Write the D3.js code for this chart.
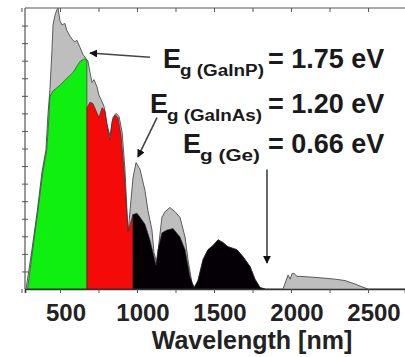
<!DOCTYPE html>
<html>
<head>
<meta charset="utf-8">
<script src="https://cdn.jsdelivr.net/npm/d3@7/dist/d3.min.js"></script>
<style>
  html, body { margin: 0; padding: 0; background: #fff; }
  svg { display: block; font-family: "Liberation Sans", Arial, sans-serif; }
</style>
</head>
<body>
<div id="chart"></div>
<script>
// wavelength [nm], spectral irradiance [W m^-2 nm^-1]
const solarSpectrum = [
  [280, 0], [318, 0.28], [351, 0.54], [383, 0.83], [409, 0.99], [422, 1.24], [435, 1.42],
  [448, 1.70], [455, 1.88], [468, 1.95], [481, 1.99], [487, 2.0], [500, 1.91], [513, 1.88],
  [532, 1.89], [545, 1.84], [565, 1.80], [584, 1.77], [597, 1.76], [610, 1.77], [630, 1.72],
  [649, 1.67], [669, 1.64], [682, 1.62], [695, 1.54], [708, 1.47], [721, 1.49], [740, 1.44],
  [753, 1.38], [766, 1.35], [786, 1.30], [805, 1.17], [825, 1.09], [844, 1.22], [864, 1.25],
  [883, 1.23], [903, 1.12], [922, 0.85], [942, 0.40], [961, 0.63], [974, 0.79], [994, 0.90],
  [1020, 0.85], [1052, 0.70], [1071, 0.56], [1097, 0.42], [1110, 0.26], [1130, 0.18],
  [1143, 0.33], [1162, 0.51], [1182, 0.55], [1214, 0.58], [1247, 0.55], [1279, 0.51],
  [1312, 0.37], [1331, 0.21], [1357, 0.04], [1377, 0.01], [1396, 0.06], [1429, 0.21],
  [1461, 0.28], [1494, 0.31], [1526, 0.35], [1559, 0.33], [1591, 0.30], [1649, 0.28],
  [1688, 0.23], [1734, 0.16], [1766, 0.07], [1799, 0.01], [1831, 0], [1948, 0], [1968, 0.06],
  [1981, 0.10], [1994, 0.07], [2007, 0.11], [2020, 0.11], [2039, 0.09], [2059, 0.09],
  [2124, 0.085], [2188, 0.08], [2286, 0.07], [2351, 0.06], [2416, 0.035], [2461, 0.015],
  [2500, 0], [2750, 0]
];

// GaInP top cell
const gainpSpectrum = [
  [290, 0], [323, 0.28], [355, 0.54], [388, 0.83], [414, 0.99], [427, 1.20], [435, 1.37],
  [455, 1.41], [500, 1.45], [545, 1.50], [584, 1.54], [630, 1.62], [662, 1.64], [675, 1.63],
  [675, 0]
];

// GaInAs middle cell
const gainasSpectrum = [
  [675, 0], [675, 1.29], [695, 1.33], [714, 1.32], [734, 1.27], [753, 1.22], [773, 1.29],
  [792, 1.27], [812, 1.13], [825, 1.06], [838, 1.19], [857, 1.24], [877, 1.22], [896, 1.10],
  [916, 0.85], [929, 0.63], [942, 0.41], [955, 0.46], [974, 0.53], [974, 0]
];

// Ge bottom cell
const geSpectrum = [
  [974, 0], [974, 0.53], [1000, 0.54], [1020, 0.51], [1052, 0.46], [1084, 0.35], [1104, 0.26],
  [1123, 0.17], [1136, 0.28], [1162, 0.40], [1195, 0.42], [1234, 0.43], [1279, 0.37],
  [1312, 0.28], [1344, 0.09], [1370, 0.01], [1396, 0.06], [1429, 0.21], [1461, 0.28],
  [1494, 0.31], [1526, 0.35], [1559, 0.33], [1591, 0.30], [1649, 0.28], [1688, 0.23],
  [1734, 0.16], [1766, 0.07], [1799, 0.01], [1831, 0]
];

const xTicks = [250, 500, 750, 1000, 1250, 1500, 1750, 2000, 2250, 2500];
const xTickLabels = [500, 1000, 1500, 2000, 2500];

// arrows: [from, tip] in data units
const arrows = [
  [[1084, 1.65], [695, 1.68]],
  [[1130, 1.22], [1006, 0.94]],
  [[1844, 0.85], [1844, 0.185]]
];

const labels = [
  { x: 163, y: 68, sub: 'g (GaInP)', subLen: 84, eqX: 268, value: '= 1.75 eV' },
  { x: 150, y: 113, sub: 'g (GaInAs)', subLen: 95, eqX: 268, value: '= 1.20 eV' },
  { x: 183, y: 153, sub: 'g (Ge)', subLen: 60, eqX: 268, value: '= 0.66 eV' }
];

const width = 405, height = 357;
const margin = { top: 8, right: 0, bottom: 68, left: 25 };

const svg = d3.select('#chart')
  .append('svg')
  .attr('width', width)
  .attr('height', height);

const x = d3.scaleLinear()
  .domain([273, 2740])
  .range([margin.left, width - margin.right]);

const y = d3.scaleLinear()
  .domain([0, 2.0])
  .range([height - margin.bottom, margin.top]);

const area = d3.area()
  .x(d => x(d[0]))
  .y0(y(0))
  .y1(d => y(d[1]));

const line = d3.line()
  .x(d => x(d[0]))
  .y(d => y(d[1]));

// full spectrum in grey
svg.append('path')
  .datum(solarSpectrum)
  .attr('fill', '#bebebe')
  .attr('d', area);
svg.append('path')
  .datum(solarSpectrum)
  .attr('fill', 'none')
  .attr('stroke', '#5a5a5a')
  .attr('stroke-width', 1)
  .attr('d', line);

// sub-cells
const cells = [
  { data: gainpSpectrum, color: '#10f010' },
  { data: gainasSpectrum, color: '#f50a0a' },
  { data: geSpectrum, color: '#050005' }
];
cells.forEach(c => {
  svg.append('path')
    .datum(c.data)
    .attr('fill', c.color)
    .attr('stroke', '#2a2a2a')
    .attr('stroke-width', 0.6)
    .attr('d', area);
});

// frame
const frame = svg.append('g').attr('stroke', '#555').attr('stroke-width', 1.2).attr('fill', 'none');
frame.append('line')
  .attr('x1', margin.left).attr('x2', width)
  .attr('y1', margin.top).attr('y2', margin.top);
frame.append('line')
  .attr('x1', margin.left).attr('x2', margin.left)
  .attr('y1', margin.top).attr('y2', height - margin.bottom);

// bottom axis
const xAxis = svg.append('g')
  .attr('transform', `translate(0,${height - margin.bottom})`)
  .call(d3.axisBottom(x).tickValues(xTicks).tickSize(4).tickFormat(''));
xAxis.select('.domain').attr('stroke', '#333').attr('stroke-width', 1.6);
xAxis.selectAll('.tick line').attr('stroke', '#555');

// top ticks
const topAxis = svg.append('g')
  .attr('transform', `translate(0,${margin.top})`)
  .call(d3.axisTop(x).tickValues(xTicks).tickSize(-4).tickFormat(''));
topAxis.select('.domain').remove();
topAxis.selectAll('.tick line').attr('stroke', '#555');

// left ticks
const yAxis = svg.append('g')
  .attr('transform', `translate(${margin.left + 3},0)`)
  .call(d3.axisLeft(y).tickValues(d3.range(0.125, 2.0, 0.125)).tickSize(6).tickFormat(''));
yAxis.select('.domain').remove();
yAxis.selectAll('.tick line').attr('stroke', '#555');

// tick labels
svg.append('g')
  .selectAll('text')
  .data(xTickLabels)
  .join('text')
  .attr('x', d => x(d) + 6)
  .attr('y', 321)
  .attr('text-anchor', 'middle')
  .attr('font-size', 24)
  .attr('font-weight', 'bold')
  .attr('fill', '#222')
  .text(d => d);

svg.append('text')
  .attr('x', 252)
  .attr('y', 349)
  .attr('text-anchor', 'middle')
  .attr('font-size', 25)
  .attr('font-weight', 'bold')
  .attr('fill', '#222')
  .text('Wavelength [nm]');

// arrows
const defs = svg.append('defs');
defs.append('marker')
  .attr('id', 'head')
  .attr('viewBox', '0 0 10 10')
  .attr('refX', 9)
  .attr('refY', 5)
  .attr('markerWidth', 5)
  .attr('markerHeight', 5)
  .attr('markerUnits', 'strokeWidth')
  .attr('orient', 'auto')
  .append('path')
  .attr('d', 'M0,0L10,5L0,10Z')
  .attr('fill', '#111');

svg.append('g')
  .selectAll('line')
  .data(arrows)
  .join('line')
  .attr('x1', d => x(d[0][0]))
  .attr('y1', d => y(d[0][1]))
  .attr('x2', d => x(d[1][0]))
  .attr('y2', d => y(d[1][1]))
  .attr('stroke', '#444')
  .attr('stroke-width', 1.6)
  .attr('marker-end', 'url(#head)');

// band gap labels
const lab = svg.append('g')
  .attr('font-weight', 'bold')
  .attr('fill', '#1a1a1a');
labels.forEach(l => {
  lab.append('text')
    .attr('x', l.x)
    .attr('y', l.y)
    .attr('font-size', 27)
    .text('E');
  lab.append('text')
    .attr('x', l.x + 17)
    .attr('y', l.y + 8)
    .attr('font-size', 16)
    .attr('textLength', l.subLen)
    .attr('lengthAdjust', 'spacingAndGlyphs')
    .text(l.sub);
  lab.append('text')
    .attr('x', l.eqX)
    .attr('y', l.y)
    .attr('font-size', 27)
    .text(l.value);
});
</script>
</body>
</html>
